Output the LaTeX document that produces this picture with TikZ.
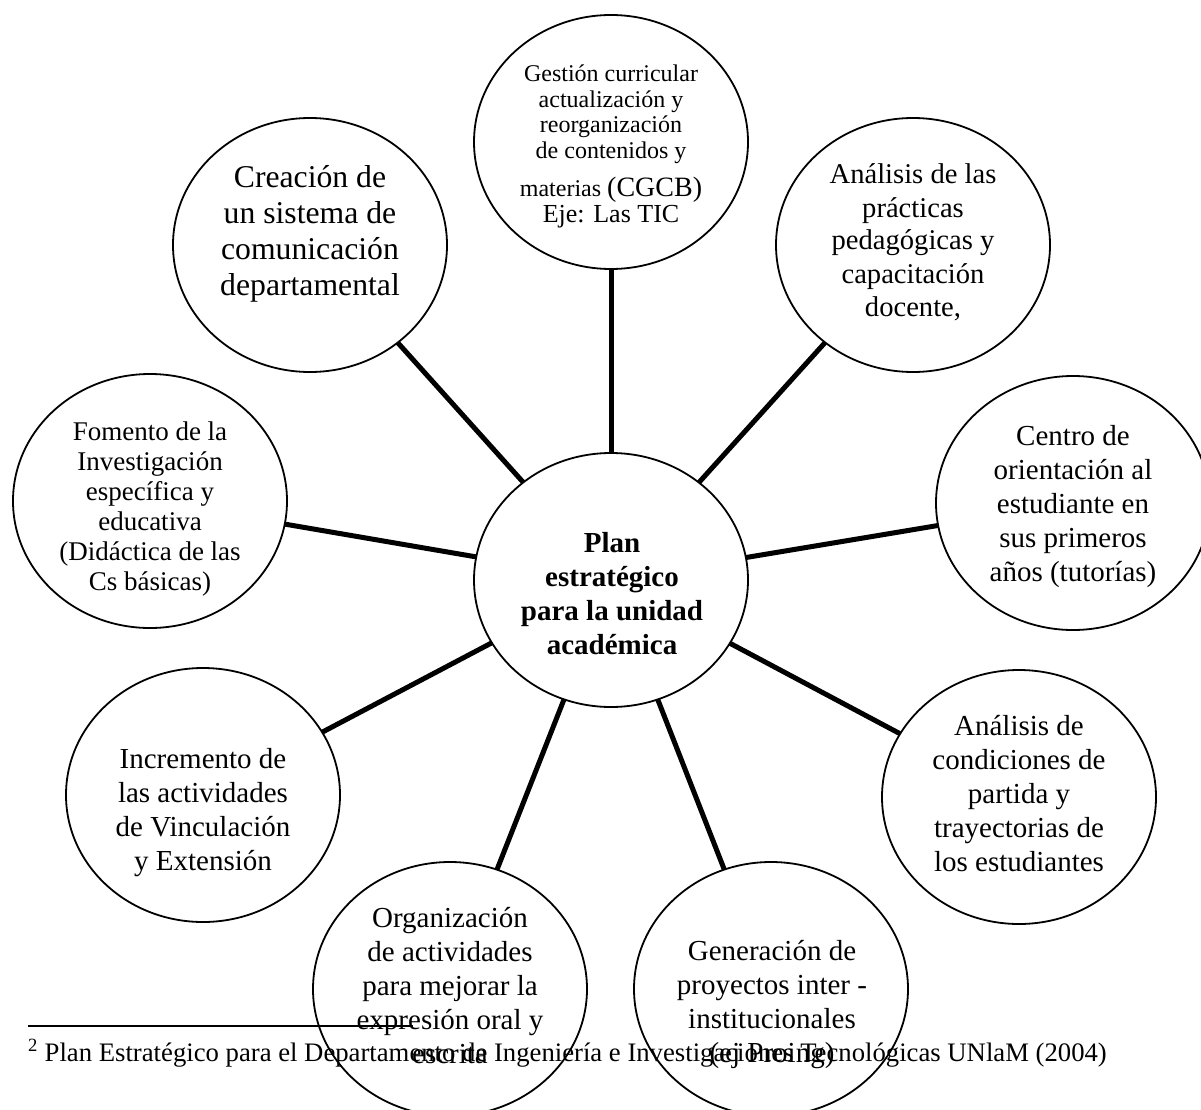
\documentclass[tikz,border=0pt]{standalone}
\usepackage{fontspec}
\setmainfont{Liberation Serif}
\usetikzlibrary{shapes.geometric}
\newcommand\ctext[3]{\vtop{\fontsize{#1}{#2}\selectfont\lineskiplimit=-1000pt\lineskip=0pt\halign{\hfil##\hfil\cr#3\crcr}}}
\tikzset{
  bubble/.style={draw, line width=1.8pt, ellipse, minimum width=274pt, minimum height=254pt, inner sep=0pt, outer sep=0pt},
  spoke/.style={line width=5pt},
  lbl/.style={anchor=base, inner sep=0pt}
}
\begin{document}
\begin{tikzpicture}[x=1pt,y=-1pt]
\useasboundingbox (0,0) rectangle (1201,1110);
\clip (0,0) rectangle (1201,1110);
% circles
\node[bubble] (core) at (611,580) {};
\node[bubble] (ges) at (611,142) {};
\node[bubble] (cre) at (310,245) {};
\node[bubble] (apr) at (913,245) {};
\node[bubble] (fom) at (150,501) {};
\node[bubble] (cen) at (1073,503) {};
\node[bubble] (inc) at (203,795) {};
\node[bubble] (acp) at (1019,797) {};
\node[bubble] (org) at (450,989) {};
\node[bubble] (gen) at (771,989) {};
% spokes
\foreach \n in {ges,cre,apr,fom,cen,inc,acp,org,gen}
  \draw[spoke] (core) -- (\n);
% texts
\node[lbl, font=\bfseries] (tcore) at (612,552) {\ctext{29}{34}{Plan\cr estratégico\cr para la unidad\cr académica}};
\node[lbl] (tges) at (611,82) {\ctext{24}{25.5}{Gestión curricular\cr actualización y\cr reorganización\cr de contenidos y\cr\noalign{\vskip 13pt}materias {\fontsize{28}{28}\selectfont(CGCB)}\cr {\fontsize{26}{26}\selectfont Eje: Las TIC}}};
\node[lbl] (tcre) at (310,187) {\ctext{31.7}{36}{Creación de\cr un sistema de\cr comunicación\cr departamental}};
\node[lbl] (tapr) at (913,184) {\ctext{28.6}{33}{Análisis de las\cr prácticas\cr pedagógicas y\cr capacitación\cr docente,}};
\node[lbl] (tfom) at (150,440) {\ctext{27}{30}{Fomento de la\cr Investigación\cr específica y\cr educativa\cr (Didáctica de las\cr Cs básicas)}};
\node[lbl] (tcen) at (1073,445) {\ctext{29}{34}{Centro de\cr orientación al\cr estudiante en\cr sus primeros\cr años (tutorías)}};
\node[lbl] (tinc) at (203,768) {\ctext{29}{34}{Incremento de\cr las actividades\cr de Vinculación\cr y Extensión}};
\node[lbl] (tacp) at (1019,735) {\ctext{29}{34}{Análisis de\cr condiciones de\cr partida y\cr trayectorias de\cr los estudiantes}};
\node[lbl] (torg) at (450,927) {\ctext{29}{34}{Organización\cr de actividades\cr para mejorar la\cr expresión oral y\cr escrita}};
\node[lbl] (tgen) at (772,960) {\ctext{29}{34}{Generación de\cr proyectos inter -\cr institucionales\cr (ej Proing)}};
% footnote
\coordinate (rulea) at (28,1026);
\coordinate (ruleb) at (413,1026);
\draw[line width=2pt] (rulea) -- (ruleb);
\node[anchor=base west, inner sep=0pt, font=\fontsize{26.7}{30}\selectfont] (fn) at (28,1061) {\textsuperscript{2} Plan Estratégico para el Departamento de Ingeniería e Investigaciones Tecnológicas UNlaM (2004)};
\end{tikzpicture}
\end{document}
